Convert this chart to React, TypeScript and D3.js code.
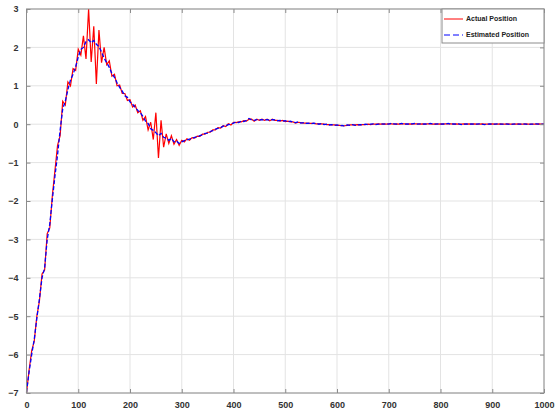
import React, { useEffect, useRef } from "react";
import * as d3 from "d3";

// sample index (time steps of 5)
const time: number[] = d3.range(0, 1001, 5);

// Actual position (red)
const actual: number[] = [
  -7.0, -6.4, -5.9, -5.65, -5.0, -4.6, -3.9, -3.8, -2.85, -2.7,
  -1.85, -1.2, -0.55, -0.3, 0.6, 0.5, 1.1, 1.0, 1.45, 1.4,
  1.95, 1.8, 2.3, 1.7, 3.0, 1.62, 2.55, 1.05, 2.45, 1.6,
  2.0, 1.55, 1.65, 1.25, 1.3, 1.0, 1.02, 0.8, 0.8, 0.62,
  0.64, 0.45, 0.5, 0.3, 0.35, 0.1, 0.2, -0.15, 0.05, -0.4,
  0.3, -0.88, 0.1, -0.6, -0.25, -0.5, -0.3, -0.52, -0.4, -0.55,
  -0.42, -0.46, -0.38, -0.42, -0.35, -0.36, -0.31, -0.32, -0.26, -0.26,
  -0.21, -0.21, -0.15, -0.15, -0.09, -0.1, -0.04, -0.06, 0.01, -0.02,
  0.05, 0.04, 0.06, 0.06, 0.09, 0.08, 0.13, 0.13, 0.08, 0.13,
  0.1, 0.13, 0.1, 0.13, 0.09, 0.13, 0.1, 0.1, 0.08, 0.1,
  0.07, 0.08, 0.06, 0.06, 0.03, 0.05, 0.04, 0.03, 0.03, 0.02,
  0.02, 0.02, 0.01, 0.01, 0.01, 0.0, -0.01, -0.01, -0.02, -0.02,
  -0.03, -0.03, -0.04, -0.04, -0.03, -0.02, -0.02, -0.02, -0.01, -0.02,
  -0.01, -0.01, 0.0, -0.01, 0.0, 0.0, 0.01, 0.0, 0.01, 0.0,
  0.01, 0.01, 0.0, 0.01, 0.0, 0.01, 0.01, 0.0, 0.01, 0.0,
  0.01, 0.01, 0.0, 0.01, 0.0, 0.01, 0.01, 0.0, 0.01, 0.0,
  0.01, 0.0, 0.01, 0.01, 0.01, 0.0, 0.01, 0.0, 0.0, 0.01,
  0.0, 0.01, 0.0, 0.01, 0.0, 0.0, 0.01, 0.0, 0.0, 0.0,
  0.01, 0.0, 0.0, 0.01, 0.0, 0.0, 0.01, 0.0, 0.0, 0.0,
  0.01, 0.0, 0.0, 0.01, 0.0, 0.0, 0.0, 0.0, 0.01, 0.0,
  0.0,
];

// Estimated position (blue dashed)
const estimated: number[] = [
  -6.98, -6.45, -6.0, -5.6, -5.05, -4.55, -4.0, -3.75, -3.0, -2.6,
  -1.95, -1.35, -0.8, -0.15, 0.4, 0.6, 0.9, 1.15, 1.3, 1.5,
  1.75, 1.95, 2.0, 2.15, 2.2, 2.12, 2.18, 2.08, 2.02, 1.88,
  1.72, 1.6, 1.48, 1.32, 1.22, 1.08, 0.96, 0.86, 0.74, 0.7,
  0.58, 0.52, 0.44, 0.36, 0.3, 0.2, 0.08, 0.02, -0.12, -0.16,
  -0.22, -0.3, -0.24, -0.34, -0.36, -0.42, -0.37, -0.46, -0.44, -0.5,
  -0.46, -0.43, -0.41, -0.39, -0.37, -0.34, -0.33, -0.3, -0.28, -0.24,
  -0.23, -0.19, -0.17, -0.13, -0.11, -0.09, -0.05, -0.04, -0.01, 0.0,
  0.03, 0.06, 0.04, 0.08, 0.07, 0.1, 0.15, 0.11, 0.1, 0.12,
  0.11, 0.12, 0.11, 0.12, 0.1, 0.12, 0.11, 0.09, 0.1, 0.08,
  0.09, 0.06, 0.08, 0.05, 0.04, 0.06, 0.03, 0.04, 0.02, 0.03,
  0.01, 0.03, 0.02, 0.0, 0.02, -0.01, 0.0, -0.02, -0.01, -0.03,
  -0.02, -0.04, -0.03, -0.05, -0.02, -0.03, -0.01, -0.03, -0.02, -0.01,
  -0.02, 0.0, -0.01, 0.0, 0.01, -0.01, 0.0, 0.01, 0.0, 0.01,
  0.0, 0.02, 0.01, 0.0, 0.01, 0.02, 0.0, 0.01, 0.0, 0.01,
  0.02, 0.0, 0.01, 0.0, 0.01, 0.0, 0.02, 0.01, 0.0, 0.01,
  0.0, 0.01, 0.0, 0.02, 0.0, 0.01, 0.0, 0.01, -0.01, 0.0,
  0.01, 0.0, 0.01, 0.0, 0.0, 0.01, 0.0, -0.01, 0.0, 0.01,
  0.0, 0.0, 0.01, 0.0, 0.0, 0.01, 0.0, -0.01, 0.0, 0.01,
  0.0, 0.0, 0.01, 0.0, -0.01, 0.0, 0.0, 0.01, 0.0, 0.0,
  0.0,
];

const xTicks = [0, 100, 200, 300, 400, 500, 600, 700, 800, 900, 1000];
const yTicks = [-7, -6, -5, -4, -3, -2, -1, 0, 1, 2, 3];
const legendLabels = ["Actual Position", "Estimated Position"];

const W = 557;
const H = 412;

const App = () => {
  const svgRef = useRef<SVGSVGElement>(null);

  useEffect(() => {
    const left = 26.5, right = 544, top = 9, bottom = 393;
    const svg = d3.select(svgRef.current);
    svg.selectAll("*").remove();

    const x = d3.scaleLinear().domain([0, 1000]).range([left, right]);
    const y = d3.scaleLinear().domain([-7, 3]).range([bottom, top]);

    svg.append("rect").attr("width", W).attr("height", H).attr("fill", "#fff");

    // grid
    const grid = svg.append("g").attr("stroke", "#e3e3e3").attr("stroke-width", 1);
    grid.selectAll("line.gx")
      .data(xTicks)
      .join("line")
      .attr("class", "gx")
      .attr("x1", d => x(d)).attr("x2", d => x(d))
      .attr("y1", top).attr("y2", bottom);
    grid.selectAll("line.gy")
      .data(yTicks)
      .join("line")
      .attr("class", "gy")
      .attr("x1", left).attr("x2", right)
      .attr("y1", d => y(d)).attr("y2", d => y(d));

    // lines
    const pts = (vals: number[]) => time.map((t, i) => [t, vals[i]] as [number, number]);
    const line = d3.line<[number, number]>().x(d => x(d[0])).y(d => y(d[1]));

    svg.append("path")
      .attr("d", line(pts(actual)))
      .attr("fill", "none")
      .attr("stroke", "#ff0000")
      .attr("stroke-width", 1.2);

    svg.append("path")
      .attr("d", line(pts(estimated)))
      .attr("fill", "none")
      .attr("stroke", "#0000ff")
      .attr("stroke-width", 1.3)
      .attr("stroke-dasharray", "4,2");

    // axes box with inward ticks
    const axisColor = "#8c8c8c";
    svg.append("rect")
      .attr("x", left).attr("y", top)
      .attr("width", right - left).attr("height", bottom - top)
      .attr("fill", "none")
      .attr("stroke", axisColor)
      .attr("stroke-width", 1);

    const fmt = d3.format("d");
    const axisX = svg.append("g")
      .attr("transform", `translate(0,${bottom})`)
      .call(d3.axisBottom(x).tickValues(xTicks).tickFormat(d => fmt(d as number)).tickSizeInner(-4).tickSizeOuter(0).tickPadding(9));
    const axisXTop = svg.append("g")
      .attr("transform", `translate(0,${top})`)
      .call(d3.axisTop(x).tickValues(xTicks).tickSizeInner(-4).tickSizeOuter(0).tickFormat(() => ""));
    const axisY = svg.append("g")
      .attr("transform", `translate(${left},0)`)
      .call(d3.axisLeft(y).tickValues(yTicks).tickFormat(d => fmt(d as number)).tickSizeInner(-4).tickSizeOuter(0).tickPadding(8));
    const axisYR = svg.append("g")
      .attr("transform", `translate(${right},0)`)
      .call(d3.axisRight(y).tickValues(yTicks).tickSizeInner(-4).tickSizeOuter(0).tickFormat(() => ""));

    [axisX, axisXTop, axisY, axisYR].forEach(a => {
      a.select(".domain").remove();
      a.selectAll(".tick line").attr("stroke", axisColor);
      a.selectAll(".tick text")
        .attr("fill", "#333")
        .attr("font-family", "Liberation Sans, Arial, sans-serif")
        .attr("font-weight", "bold")
        .attr("font-size", 9);
    });

    // legend
    const lg = svg.append("g");
    lg.append("rect")
      .attr("x", 442).attr("y", top)
      .attr("width", right - 442).attr("height", 34)
      .attr("fill", "#fff")
      .attr("stroke", axisColor)
      .attr("stroke-width", 1);
    const colors = ["#ff0000", "#0000ff"];
    legendLabels.forEach((lab, i) => {
      const ly = top + 10 + i * 16;
      lg.append("line")
        .attr("x1", 444).attr("x2", 463)
        .attr("y1", ly).attr("y2", ly)
        .attr("stroke", colors[i])
        .attr("stroke-width", 1)
        .attr("stroke-dasharray", i === 1 ? "6,3" : null);
      lg.append("text")
        .attr("x", 466).attr("y", ly)
        .attr("dy", "0.35em")
        .attr("font-family", "Liberation Sans, Arial, sans-serif")
        .attr("font-weight", "bold")
        .attr("font-size", 7)
        .attr("fill", "#222")
        .text(lab);
    });
  }, []);

  return (
    <svg
      ref={svgRef}
      width={W}
      height={H}
      style={{ position: "absolute", left: 0, top: 0 }}
    />
  );
};

export default App;
